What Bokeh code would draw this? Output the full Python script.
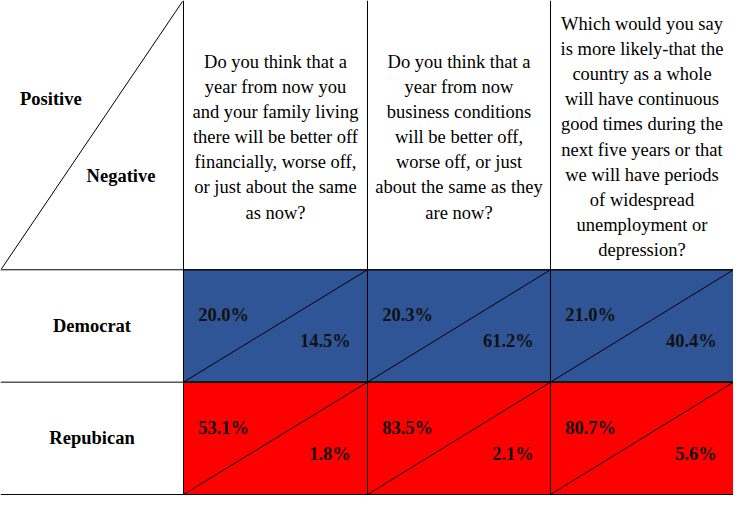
from bokeh.plotting import figure
from bokeh.models import ColumnDataSource, Range1d
from bokeh.core.properties import value
from bokeh.embed import file_html
from bokeh.resources import INLINE

# ---------------- data ----------------
questions = [
    ["Do you think that a", "year from now you", "and your family living",
     "there will be better off", "financially, worse off,", "or just about the same", "as now?"],
    ["Do you think that a", "year from now", "business conditions",
     "will be better off,", "worse off, or just", "about the same as they", "are now?"],
    ["Which would you say", "is more likely-that the", "country as a whole",
     "will have continuous", "good times during the", "next five years or that",
     "we will have periods", "of widespread", "unemployment or", "depression?"],
]
parties = ["Democrat", "Repubican"]
party_colors = ["#2F5597", "#FF0000"]
positive = [[20.0, 20.3, 21.0], [53.1, 83.5, 80.7]]
negative = [[14.5, 61.2, 40.4], [1.8, 2.1, 5.6]]
corner_labels = ["Positive", "Negative"]

# ---------------- layout (reference pixel space) ----------------
W, H = 749, 511
col_edges = [0, 187, 375, 562, 749]
row_edges = [0, 278, 394, 510]
FONT = value("Liberation Serif")
FS = "18.5px"
LINE_H = 26

p = figure(width=733, height=495, output_backend="svg", toolbar_location=None,
           x_range=Range1d(0, W), y_range=Range1d(H, 0), min_border=0,
           background_fill_color="white", border_fill_color="white")
p.outline_line_color = None
p.axis.visible = False
p.grid.visible = False

# coloured cells
qs, xs0, xs1, ys0, ys1, cols = [], [], [], [], [], []
for r, party in enumerate(parties):
    for c in range(len(questions)):
        xs0.append(col_edges[c + 1]); xs1.append(col_edges[c + 2])
        ys0.append(row_edges[r + 1]); ys1.append(row_edges[r + 2])
        cols.append(party_colors[r])
p.quad(left=xs0, right=xs1, top=ys0, bottom=ys1, fill_color=cols, line_color="black", line_width=1)

# cell diagonals
p.segment(x0=xs0, y0=ys1, x1=xs1, y1=ys0, line_color="black", line_width=1)

# grid lines
for x in col_edges[1:-1]:
    p.segment(x0=[x], y0=[0], x1=[x], y1=[row_edges[-1]], line_color="black", line_width=1)
for y in row_edges[1:]:
    p.segment(x0=[0], y0=[y], x1=[W], y1=[y], line_color="black", line_width=1)

# header diagonal
p.segment(x0=[1], y0=[row_edges[1] - 1], x1=[col_edges[1] - 1], y1=[1], line_color="black", line_width=1)

# corner labels
p.text(x=[20], y=[102], text=[corner_labels[0]], text_font=FONT, text_font_size=FS,
       text_font_style="bold", text_baseline="middle", text_align="left", text_color="black")
p.text(x=[88], y=[181], text=[corner_labels[1]], text_font=FONT, text_font_size=FS,
       text_font_style="bold", text_baseline="middle", text_align="left", text_color="black")

# question headers
tx, ty, tt = [], [], []
mid = row_edges[1] / 2 + 2
for c, lines in enumerate(questions):
    cx = (col_edges[c + 1] + col_edges[c + 2]) / 2
    n = len(lines)
    for i, line in enumerate(lines):
        tx.append(cx); ty.append(mid + (i - (n - 1) / 2) * LINE_H); tt.append(line)
p.text(x=tx, y=ty, text=tt, text_font=FONT, text_font_size=FS, text_baseline="middle",
       text_align="center", text_color="black")

# party labels
p.text(x=[col_edges[1] / 2] * 2,
       y=[(row_edges[1] + row_edges[2]) / 2, (row_edges[2] + row_edges[3]) / 2],
       text=parties, text_font=FONT, text_font_size=FS, text_font_style="bold",
       text_baseline="middle", text_align="center", text_color="black")

# values
px, py, pt, nx, ny, nt = [], [], [], [], [], []
for r in range(len(parties)):
    for c in range(len(questions)):
        px.append(col_edges[c + 1] + 15); py.append(row_edges[r + 1] + 47)
        pt.append(f"{positive[r][c]:.1f}%")
        nx.append(col_edges[c + 2] - 17); ny.append(row_edges[r + 1] + 74)
        nt.append(f"{negative[r][c]:.1f}%")
p.text(x=px, y=py, text=pt, text_font=FONT, text_font_size=FS, text_font_style="bold",
       text_baseline="middle", text_align="left", text_color="#111111")
p.text(x=nx, y=ny, text=nt, text_font=FONT, text_font_size=FS, text_font_style="bold",
       text_baseline="middle", text_align="right", text_color="#111111")

open("out.html", "w").write(file_html(p, INLINE))
